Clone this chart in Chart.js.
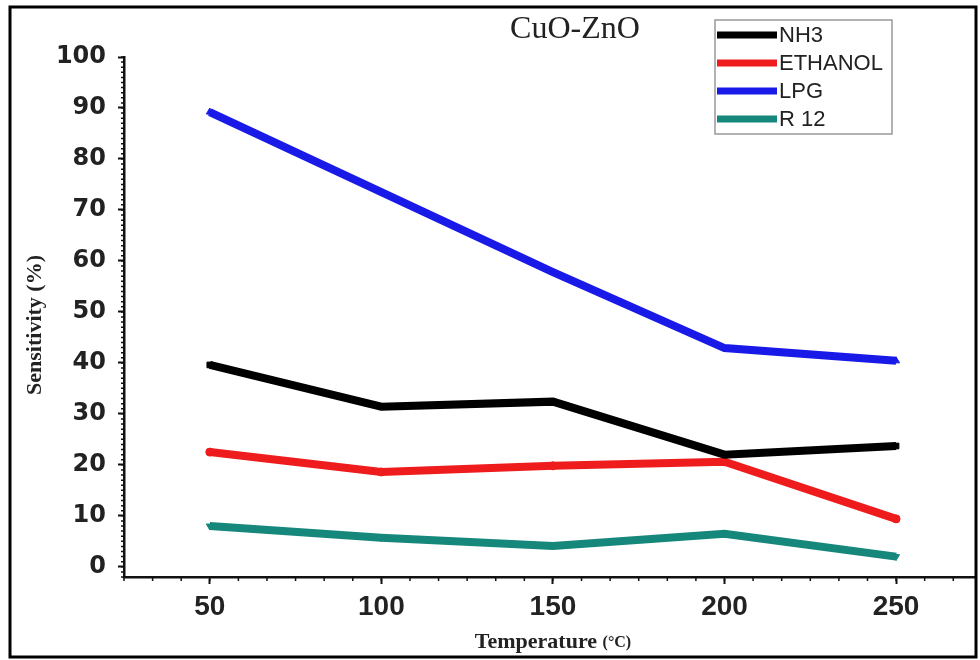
<!DOCTYPE html>
<html>
<head>
<meta charset="utf-8">
<script src="https://cdn.jsdelivr.net/npm/chart.js@4"></script>
<style>
  html, body { margin: 0; padding: 0; background: #fff; }
  #wrap { width: 980px; height: 660px; position: relative; }
</style>
</head>
<body>
<div id="wrap"><canvas id="sensChart" width="980" height="660"></canvas></div>
<script>
// values
const temperatures = [50, 100, 150, 200, 250];
const nh3 = [39.6, 31.4, 32.4, 22.0, 23.7];
const ethanol = [22.5, 18.6, 19.8, 20.6, 9.4];
const lpg = [89.2, 73.5, 57.8, 42.9, 40.4];
const r12 = [8.0, 5.7, 4.1, 6.5, 2.0];
const xTicks = [50, 100, 150, 200, 250];
const yTicks = [0, 10, 20, 30, 40, 50, 60, 70, 80, 90, 100];

const toPoints = vals => temperatures.map((t, i) => ({ x: t, y: vals[i] }));

function series(label, vals, color, style, rot) {
    return {
        label: label,
        data: toPoints(vals),
        borderColor: color,
        backgroundColor: color,
        borderWidth: 8,
        pointRadius: 4,
        pointBorderWidth: 1,
        pointStyle: style,
        rotation: rot || 0,
        tension: 0,
        fill: false
    };
}

// titles, minor ticks, legend box and frame
const decorations = {
    id: "decorations",
    afterDraw(chart) {
        const ctx = chart.ctx;
        const xs = chart.scales.x, ys = chart.scales.y;
        ctx.save();
        ctx.strokeStyle = "#111";
        ctx.lineWidth = 1.5;
        // minor ticks x
        ctx.beginPath();
        for (let v = 25; v <= 273; v += 50 / 6) {
            const px = xs.getPixelForValue(v);
            ctx.moveTo(px, ys.bottom);
            ctx.lineTo(px, ys.bottom + 4);
        }
        // minor ticks y
        for (let v = -2; v <= 100; v += 1) {
            const py = ys.getPixelForValue(v);
            ctx.moveTo(xs.left, py);
            ctx.lineTo(xs.left - 3, py);
        }
        ctx.stroke();

        // chart title
        ctx.fillStyle = "#222";
        ctx.textAlign = "center";
        ctx.textBaseline = "middle";
        ctx.font = "32px 'Liberation Serif'";
        ctx.fillText("CuO-ZnO", 575, 30);

        // y title
        ctx.save();
        ctx.translate(35, 325);
        ctx.rotate(-Math.PI / 2);
        ctx.font = "bold 22px 'Liberation Serif'";
        ctx.fillText("Sensitivity (%)", 0, 0);
        ctx.restore();

        // x title
        ctx.textAlign = "left";
        ctx.font = "bold 22px 'Liberation Serif'";
        const a = "Temperature ";
        const wa = ctx.measureText(a).width;
        ctx.font = "bold 16px 'Liberation Serif'";
        const b = "(\u00B0C)";
        const wb = ctx.measureText(b).width;
        const x0 = 553 - (wa + wb) / 2;
        ctx.font = "bold 22px 'Liberation Serif'";
        ctx.fillText(a, x0, 642);
        ctx.font = "bold 16px 'Liberation Serif'";
        ctx.fillText(b, x0 + wa, 643);

        // legend
        ctx.strokeStyle = "#999";
        ctx.lineWidth = 1.5;
        ctx.strokeRect(715, 20, 177, 114);
        const rows = [35, 63, 91, 119];
        chart.data.datasets.forEach((ds, i) => {
            const y = rows[i];
            ctx.strokeStyle = ds.borderColor;
            ctx.lineWidth = 7;
            ctx.beginPath();
            ctx.moveTo(717, y);
            ctx.lineTo(777, y);
            ctx.stroke();
            ctx.fillStyle = "#222";
            ctx.font = "22px 'Liberation Sans'";
            ctx.textBaseline = "middle";
            ctx.fillText(ds.label, 779, y + 1);
        });

        // outer frame
        ctx.strokeStyle = "#000";
        ctx.lineWidth = 3;
        ctx.strokeRect(10, 7, 966, 650);
        ctx.restore();
    }
};

const ctx = document.getElementById("sensChart").getContext("2d");
const chart = new Chart(ctx, {
    type: "line",
    data: {
        datasets: [
            series("NH3", nh3, "#000000", "rect"),
            series("ETHANOL", ethanol, "#ee1c1c", "circle"),
            series("LPG", lpg, "#1a1ae8", "triangle"),
            series("R 12", r12, "#16877b", "triangle", 180)
        ]
    },
    options: {
        responsive: false,
        animation: false,
        devicePixelRatio: 1,
        layout: { padding: { top: 57, right: 5, left: 0, bottom: 0 } },
        plugins: {
            legend: { display: false },
            title: { display: false },
            tooltip: { enabled: false }
        },
        scales: {
            x: {
                type: "linear",
                min: 25,
                max: 273,
                afterBuildTicks: s => { s.ticks = xTicks.map(v => ({ value: v })); },
                afterFit: s => { s.height = 83; },
                ticks: {
                    color: "#222",
                    font: { family: "'Liberation Sans'", weight: "bold", size: 28 },
                    padding: 6,
                    maxRotation: 0
                },
                grid: { drawOnChartArea: false, drawTicks: true, tickLength: 7, tickWidth: 2, tickColor: "#111" },
                border: { display: true, color: "#111", width: 2.5 }
            },
            y: {
                type: "linear",
                min: -2,
                max: 100,
                afterBuildTicks: s => { s.ticks = yTicks.map(v => ({ value: v })); },
                afterFit: s => { s.width = 124; },
                ticks: {
                    color: "#222",
                    font: { family: "'DejaVu Sans'", weight: "bold", size: 24 },
                    padding: 12
                },
                grid: { drawOnChartArea: false, drawTicks: true, tickLength: 6, tickWidth: 2, tickColor: "#111" },
                border: { display: true, color: "#111", width: 2.5 }
            }
        }
    },
    plugins: [decorations]
});
</script>
</body>
</html>
